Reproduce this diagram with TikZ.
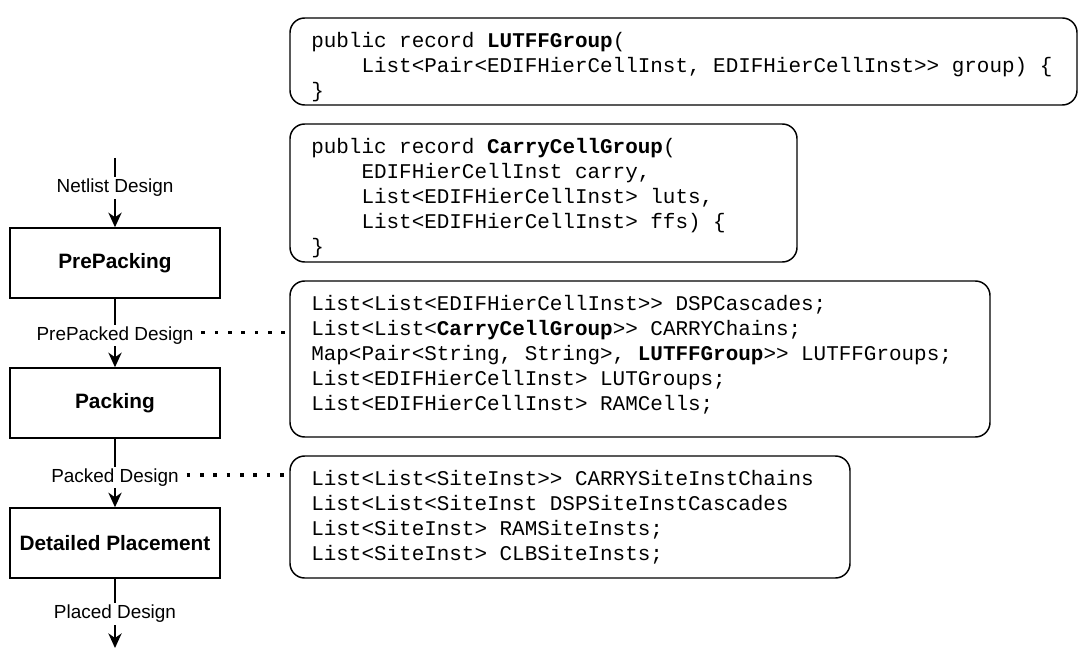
\documentclass[tikz,border=0pt]{standalone}
\usepackage{fontspec}
\setmainfont{Liberation Sans}
\setmonofont{Liberation Mono}
\usetikzlibrary{arrows.meta,fit}
\begin{document}
\begin{tikzpicture}[x=0.75pt,y=-0.75pt,
  stepbox/.style={draw, line width=1.1pt, minimum width=157.5pt, minimum height=52.5pt,
    font=\fontsize{15.6}{18}\selectfont\bfseries, inner sep=0pt},
  codebox/.style={draw, line width=1.1pt, rounded corners=11pt, inner sep=0pt},
  code/.style={anchor=base west, inner sep=0pt, font=\fontsize{15.7}{18.75}\selectfont\ttfamily},
  lbl/.style={fill=white, inner sep=1.5pt, font=\fontsize{14.2}{17}\selectfont},
  flow/.style={line width=1.1pt, -{Stealth[length=11pt,width=10pt,inset=3.5pt]}},
  dots/.style={line width=2.6pt, dash pattern=on 2.6pt off 7.4pt}
]
\useasboundingbox (0,0) rectangle (1088,659);

% code boxes
\node[codebox, fit={(290,18) (1077,105)}] (b1) {};
\node[codebox, fit={(290,124) (797,262)}] (b2) {};
\node[codebox, fit={(290,281) (990,437)}] (b3) {};
\node[codebox, fit={(290,456) (850,578)}] (b4) {};

\node[code] (t1) at (311,47.5) {\begin{tabular}[t]{@{}l@{}}
public record \textbf{LUTFFGroup}(\\
\phantom{xxxx}List<Pair<EDIFHierCellInst, EDIFHierCellInst>> group) \{\\
\}\end{tabular}};

\node[code] (t2) at (311,153.5) {\begin{tabular}[t]{@{}l@{}}
public record \textbf{CarryCellGroup}(\\
\phantom{xxxx}EDIFHierCellInst carry,\\
\phantom{xxxx}List<EDIFHierCellInst> luts,\\
\phantom{xxxx}List<EDIFHierCellInst> ffs) \{\\
\}\end{tabular}};

\node[code] (t3) at (311,310.5) {\begin{tabular}[t]{@{}l@{}}
List<List<EDIFHierCellInst>> DSPCascades;\\
List<List<\textbf{CarryCellGroup}>> CARRYChains;\\
Map<Pair<String, String>, \textbf{LUTFFGroup}>> LUTFFGroups;\\
List<EDIFHierCellInst> LUTGroups;\\
List<EDIFHierCellInst> RAMCells;\end{tabular}};

\node[code] (t4) at (311,485.5) {\begin{tabular}[t]{@{}l@{}}
List<List<SiteInst>> CARRYSiteInstChains\\
List<List<SiteInst DSPSiteInstCascades\\
List<SiteInst> RAMSiteInsts;\\
List<SiteInst> CLBSiteInsts;\end{tabular}};

% flow
\node[stepbox] (prep) at (115,263) {PrePacking};
\node[stepbox] (pack) at (115,403) {Packing};
\node[stepbox] (place) at (115,543) {Detailed Placement};
\coordinate (start) at (115,158);
\coordinate (finish) at (115,648);

\draw[flow] (start) -- (prep.north) node[lbl, pos=0.43] (l1) {Netlist Design};
\draw[flow] (prep.south) -- (pack.north) node[lbl, pos=0.535] (l2) {PrePacked Design};
\draw[flow] (pack.south) -- (place.north) node[lbl, pos=0.565] (l3) {Packed Design};
\draw[flow] (place.south) -- (finish) node[lbl, pos=0.51] (l4) {Placed Design};

\draw[dots, shorten <=4pt] ([yshift=2pt]l2.east) -- ([yshift=2pt]l2.east -| b3.west);
\draw[dots, shorten <=4pt] ([yshift=2pt]l3.east) -- ([yshift=2pt]l3.east -| b4.west);
\end{tikzpicture}
\end{document}
